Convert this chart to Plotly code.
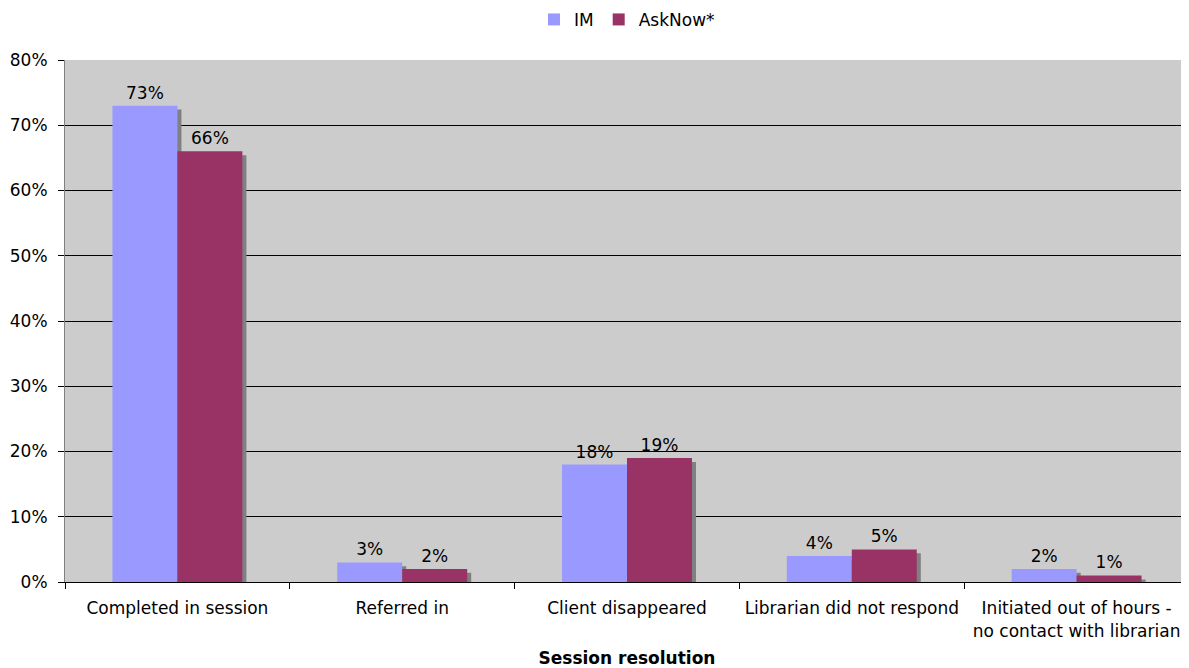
import plotly.graph_objects as go

categories = ["Completed in session", "Referred in", "Client disappeared",
              "Librarian did not respond", "Initiated out of hours -<br>no contact with librarian"]
im_values = [73, 3, 18, 4, 2]
asknow_values = [66, 2, 19, 5, 1]
y_ticks = [0, 10, 20, 30, 40, 50, 60, 70, 80]
y_tick_labels = [f"{v}%" for v in y_ticks]

FONT = "DejaVu Sans, Verdana, sans-serif"
FS = 17
bar_w = 0.289
shadow_dx = 0.018
shadow_dy = 0.6

fig = go.Figure()
# shadows
for vals, off in [(im_values, -bar_w), (asknow_values, 0)]:
    fig.add_trace(go.Bar(
        x=categories, y=[v - shadow_dy for v in vals], base=0,
        width=bar_w, offset=off + shadow_dx,
        marker=dict(color="#808080", line=dict(width=0)),
        showlegend=False, hoverinfo="skip"))
fig.add_trace(go.Bar(
    name="IM", x=categories, y=im_values, width=bar_w, offset=-bar_w,
    marker=dict(color="#9999FF", line=dict(width=0)),
    text=[f"{v}%" for v in im_values], textposition="outside",
    textfont=dict(family=FONT, size=FS, color="#000000"), cliponaxis=False))
fig.add_trace(go.Bar(
    name="AskNow*", x=categories, y=asknow_values, width=bar_w, offset=0,
    marker=dict(color="#993366", line=dict(width=0)),
    text=[f"{v}%" for v in asknow_values], textposition="outside",
    textfont=dict(family=FONT, size=FS, color="#000000"), cliponaxis=False))

fig.update_layout(
    width=1181, height=660,
    barmode="overlay",
    paper_bgcolor="white", plot_bgcolor="#CCCCCC",
    margin=dict(l=57, r=0, t=52, b=86, autoexpand=False),
    font=dict(family=FONT, size=FS, color="#000000"),
    legend=dict(orientation="h", x=0.5, xanchor="center", y=0.982, yanchor="middle",
                yref="container", font=dict(size=FS),
                itemwidth=30, traceorder="normal", tracegroupgap=0),
)
fig.update_xaxes(
    type="category", tickson="boundaries", ticks="outside", ticklen=6,
    tickcolor="#000000", showline=True, linecolor="#000000", linewidth=1,
    showgrid=False, tickfont=dict(size=FS), automargin=False,
    ticklabelstandoff=11,
    title=dict(text="<b>Session resolution</b>", font=dict(size=FS), standoff=19),
)
fig.update_yaxes(
    range=[0, 80], tickvals=y_ticks, ticktext=y_tick_labels,
    ticks="outside", ticklen=6, tickcolor="#000000",
    showline=True, linecolor="#808080", linewidth=1,
    showgrid=True, gridcolor="#000000", gridwidth=1, zeroline=False,
    tickfont=dict(size=FS), automargin=False, ticklabelstandoff=7,
)
fig.write_html("out.html")
